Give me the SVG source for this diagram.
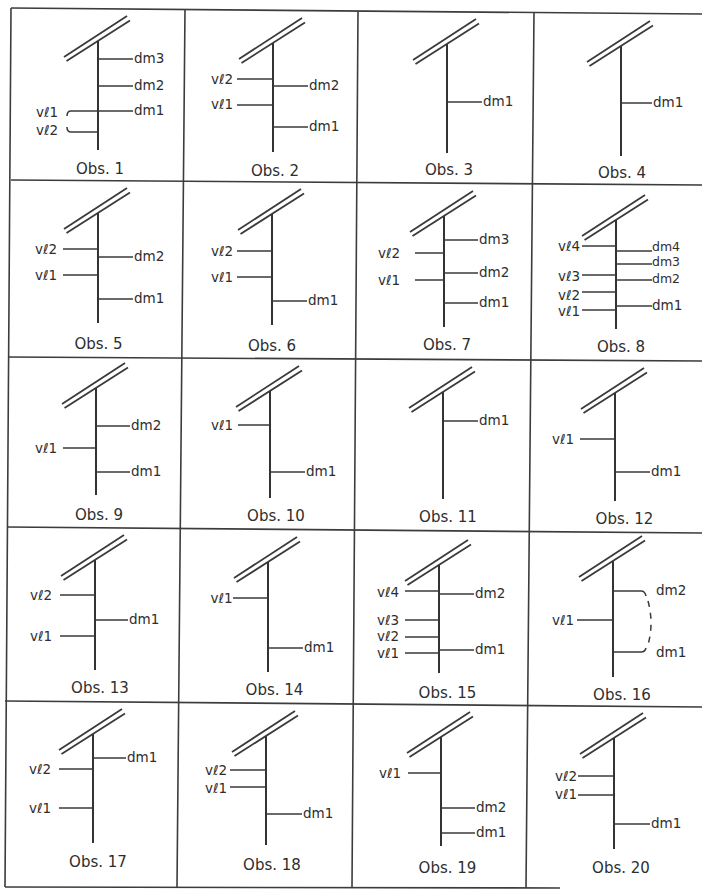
<svg xmlns="http://www.w3.org/2000/svg" xmlns:xlink="http://www.w3.org/1999/xlink" width="702" height="889" viewBox="0 0 702 889">
<style>
.grid{stroke:#3c3c3c;stroke-width:1.6;fill:none}
.st{stroke:#333;stroke-width:2;fill:none}
.br{stroke:#3a3a3a;stroke-width:1.5;fill:none}
.sl{stroke:#3a3a3a;stroke-width:1.8;fill:none}
.dash{stroke:#3a3a3a;stroke-width:1.5;fill:none;stroke-dasharray:6,6}
text{font-family:"DejaVu Sans","Liberation Sans",sans-serif;fill:#2e2e2e}
.l{font-size:13.5px}
.s{font-size:12.5px}
.o{font-size:15px;text-anchor:middle}
</style>
<defs>
<g id="slash" class="sl"><line x1="-31.5" y1="20" x2="32" y2="-20.5"/><line x1="-34" y1="16" x2="29" y2="-25"/></g>
</defs>
<rect width="702" height="889" fill="#fff"/>
<g id="grid" class="grid">
<path d="M11,8 L702,14 M11,180 L702,185 M8,357 L702,361 M7,527 L702,533 M5,701 L702,707 M5,887 L560,888"/>
<path d="M11,8 L5,887 M185,9 L177,887 M358,11 L352,887 M534,12 L526,888"/>
</g>
<g id="connectors">
<g id="obs1">
<use href="#slash" x="98" y="41"/>
<path class="st" d="M98,41 V150"/>
<path class="br" d="M98,59 H133 M98,86 H133 M98,111 H133 M98,111 H71 Q67,111 67,116 M98,132 H71 Q67,132 67,127"/>
<text class="l" x="134" y="63">dm3</text><text class="l" x="134" y="90">dm2</text><text class="l" x="134" y="115">dm1</text>
<text class="l" x="36" y="117">vℓ1</text><text class="l" x="36" y="135">vℓ2</text>
<text class="o" x="100" y="174">Obs. 1</text>
</g>
<g id="obs2">
<use href="#slash" x="273" y="43"/>
<path class="st" d="M273,43 V152"/>
<path class="br" d="M237,79 H273 M273,86 H308 M237,105 H273 M273,127 H308"/>
<text class="l" x="211" y="84">vℓ2</text><text class="l" x="211" y="109">vℓ1</text>
<text class="l" x="309" y="90">dm2</text><text class="l" x="309" y="131">dm1</text>
<text class="o" x="275" y="176">Obs. 2</text>
</g>
<g id="obs3">
<use href="#slash" x="447" y="44"/>
<path class="st" d="M447,44 V153"/>
<path class="br" d="M447,102 H482"/>
<text class="l" x="483" y="106">dm1</text>
<text class="o" x="449" y="175">Obs. 3</text>
</g>
<g id="obs4">
<use href="#slash" x="621" y="46"/>
<path class="st" d="M621,46 V156"/>
<path class="br" d="M621,103 H652"/>
<text class="l" x="653" y="107">dm1</text>
<text class="o" x="622" y="178">Obs. 4</text>
</g>
<g id="obs5">
<use href="#slash" x="98" y="213"/>
<path class="st" d="M98,213 V323"/>
<path class="br" d="M63,249 H98 M98,257 H133 M63,275 H98 M98,299 H133"/>
<text class="l" x="35" y="253.5">vℓ2</text><text class="l" x="35" y="279.5">vℓ1</text>
<text class="l" x="134" y="261">dm2</text><text class="l" x="134" y="303">dm1</text>
<text class="o" x="98.5" y="349">Obs. 5</text>
</g>
<g id="obs6">
<use href="#slash" x="272" y="214"/>
<path class="st" d="M272,214 V325"/>
<path class="br" d="M237,251 H272 M237,277 H272 M272,301 H307"/>
<text class="l" x="211" y="255.5">vℓ2</text><text class="l" x="211" y="281.5">vℓ1</text>
<text class="l" x="308" y="305">dm1</text>
<text class="o" x="272" y="351">Obs. 6</text>
</g>
<g id="obs7">
<use href="#slash" x="444" y="216"/>
<path class="st" d="M444,216 V327"/>
<path class="br" d="M444,240 H478 M415,253 H444 M444,273 H478 M415,280 H444 M444,303 H478"/>
<text class="l" x="479" y="244">dm3</text><text class="l" x="479" y="277">dm2</text><text class="l" x="479" y="307">dm1</text>
<text class="l" x="378" y="257.5">vℓ2</text><text class="l" x="378" y="284.5">vℓ1</text>
<text class="o" x="447" y="350">Obs. 7</text>
</g>
<g id="obs8">
<use href="#slash" x="616" y="220"/>
<path class="st" d="M616,220 V329"/>
<path class="br" d="M582,246 H616 M616,251 H652 M616,264 H652 M582,275 H616 M616,280 H652 M582,292 H616 M616,306 H652 M582,310 H616"/>
<text class="l" x="558" y="251">vℓ4</text><text class="l" x="558" y="281">vℓ3</text><text class="l" x="558" y="300">vℓ2</text><text class="l" x="558" y="315.5">vℓ1</text>
<text class="s" x="652" y="251">dm4</text><text class="s" x="652" y="266">dm3</text><text class="s" x="652" y="282.5">dm2</text><text class="l" x="652" y="310">dm1</text>
<text class="o" x="621" y="352">Obs. 8</text>
</g>
<g id="obs9">
<use href="#slash" x="96" y="388"/>
<path class="st" d="M96,388 V495"/>
<path class="br" d="M96,426 H130 M63,448 H96 M96,472 H130"/>
<text class="l" x="131" y="430">dm2</text><text class="l" x="131" y="476">dm1</text>
<text class="l" x="35" y="452.5">vℓ1</text>
<text class="o" x="99" y="520">Obs. 9</text>
</g>
<g id="obs10">
<use href="#slash" x="270" y="391"/>
<path class="st" d="M270,391 V498"/>
<path class="br" d="M238,425 H270 M270,472 H305"/>
<text class="l" x="211" y="429.5">vℓ1</text>
<text class="l" x="306" y="476">dm1</text>
<text class="o" x="276" y="521">Obs. 10</text>
</g>
<g id="obs11">
<use href="#slash" x="443" y="392"/>
<path class="st" d="M443,392 V499"/>
<path class="br" d="M443,421 H478"/>
<text class="l" x="479" y="425">dm1</text>
<text class="o" x="448" y="522">Obs. 11</text>
</g>
<g id="obs12">
<use href="#slash" x="615" y="393"/>
<path class="st" d="M615,393 V501"/>
<path class="br" d="M580,439 H615 M615,472 H650"/>
<text class="l" x="552" y="443.5">vℓ1</text>
<text class="l" x="651" y="476">dm1</text>
<text class="o" x="624.5" y="524">Obs. 12</text>
</g>
<g id="obs13">
<use href="#slash" x="95" y="560"/>
<path class="st" d="M95,560 V670"/>
<path class="br" d="M60,595 H95 M95,620 H128 M60,636 H95"/>
<text class="l" x="30" y="599.5">vℓ2</text><text class="l" x="30" y="640.5">vℓ1</text>
<text class="l" x="129" y="624">dm1</text>
<text class="o" x="100" y="693">Obs. 13</text>
</g>
<g id="obs14">
<use href="#slash" x="268" y="562"/>
<path class="st" d="M268,562 V672"/>
<path class="br" d="M233,598 H268 M268,648 H303"/>
<text class="l" x="210.5" y="602.5">vℓ1</text>
<text class="l" x="304" y="652">dm1</text>
<text class="o" x="274.5" y="695">Obs. 14</text>
</g>
<g id="obs15">
<use href="#slash" x="439" y="565"/>
<path class="st" d="M439,565 V673"/>
<path class="br" d="M405,591 H439 M439,594 H474 M405,620 H439 M405,637 H439 M439,650 H474 M405,653 H439"/>
<text class="l" x="377" y="596.5">vℓ4</text><text class="l" x="377" y="624.5">vℓ3</text><text class="l" x="377" y="641">vℓ2</text><text class="l" x="377" y="657.5">vℓ1</text>
<text class="l" x="475" y="598">dm2</text><text class="l" x="475" y="654">dm1</text>
<text class="o" x="447.5" y="698">Obs. 15</text>
</g>
<g id="obs16">
<use href="#slash" x="613" y="561"/>
<path class="st" d="M613,561 V677"/>
<path class="br" d="M613,591 H641 Q645,591 646,596 M613,652 H641 Q645,652 646,648 M577,620 H613"/>
<path class="dash" d="M648,601 Q654,623 648,645"/>
<text class="l" x="656" y="595">dm2</text><text class="l" x="656" y="657">dm1</text>
<text class="l" x="552" y="624.5">vℓ1</text>
<text class="o" x="622" y="700">Obs. 16</text>
</g>
<g id="obs17">
<use href="#slash" x="93" y="734"/>
<path class="st" d="M93,734 V843"/>
<path class="br" d="M93,758 H126 M59,769 H93 M59,808 H93"/>
<text class="l" x="127" y="762">dm1</text>
<text class="l" x="29" y="773.5">vℓ2</text><text class="l" x="29" y="812.5">vℓ1</text>
<text class="o" x="98" y="867">Obs. 17</text>
</g>
<g id="obs18">
<use href="#slash" x="266" y="736"/>
<path class="st" d="M266,736 V845"/>
<path class="br" d="M230,770 H266 M230,787 H266 M266,814 H302"/>
<text class="l" x="205" y="775">vℓ2</text><text class="l" x="205" y="792.5">vℓ1</text>
<text class="l" x="303" y="818">dm1</text>
<text class="o" x="272" y="870">Obs. 18</text>
</g>
<g id="obs19">
<use href="#slash" x="441" y="737"/>
<path class="st" d="M441,737 V846"/>
<path class="br" d="M408,773 H441 M441,808 H475 M441,833 H475"/>
<text class="l" x="379" y="777.5">vℓ1</text>
<text class="l" x="476" y="812">dm2</text><text class="l" x="476" y="837">dm1</text>
<text class="o" x="447.5" y="873">Obs. 19</text>
</g>
<g id="obs20">
<use href="#slash" x="614" y="738"/>
<path class="st" d="M614,738 V849"/>
<path class="br" d="M578,776 H614 M578,795 H614 M614,824 H650"/>
<text class="l" x="555" y="781">vℓ2</text><text class="l" x="555" y="798.5">vℓ1</text>
<text class="l" x="651" y="828">dm1</text>
<text class="o" x="621" y="873">Obs. 20</text>
</g>
</g>
</svg>
